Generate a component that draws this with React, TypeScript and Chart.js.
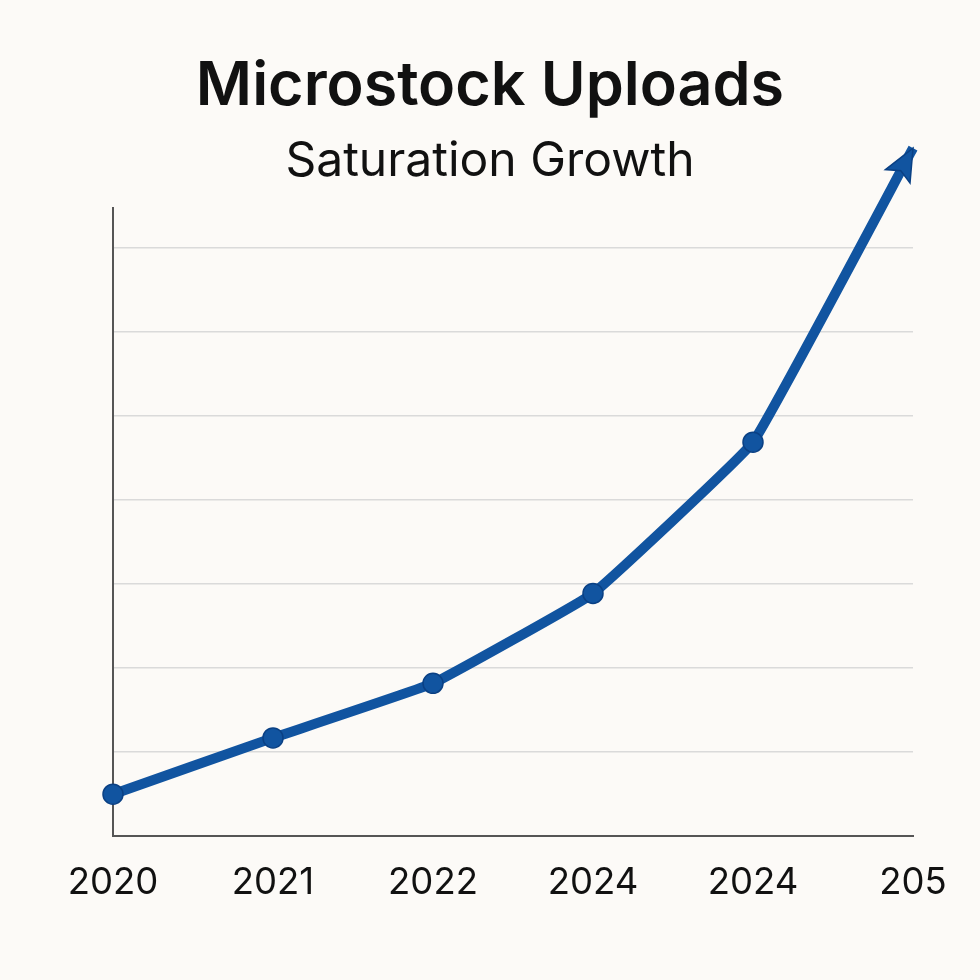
import React, { useEffect, useRef } from "react";
import { Chart, registerables } from "chart.js";

Chart.register(...registerables);

const categories = ["2020", "2021", "2022", "2024", "2024", "205"];
const uploads = [0.5, 1.17, 1.82, 2.89, 4.69, 8.19];
const pointSizes = [10, 10, 10, 10, 10, 0];

const BG = "#FCFAF7";
const LINE = "#1154A0";
const LINE_DARK = "#0A4084";

const arrowPlugin = {
  id: "arrowHead",
  afterDatasetsDraw(chart: any) {
    const meta = chart.getDatasetMeta(0);
    const pts = meta.data;
    if (!pts || pts.length < 2) return;
    const a = pts[pts.length - 2];
    const b = pts[pts.length - 1];
    const ang = Math.atan2(b.y - a.y, b.x - a.x);
    const len = 32;
    const half = 14;
    const ctx = chart.ctx;
    ctx.save();
    ctx.translate(b.x, b.y);
    ctx.rotate(ang);
    ctx.beginPath();
    ctx.moveTo(0, 0);
    ctx.lineTo(-len, -half);
    ctx.lineTo(-len * 0.8, 0);
    ctx.lineTo(-len, half);
    ctx.closePath();
    ctx.fillStyle = LINE;
    ctx.strokeStyle = LINE_DARK;
    ctx.lineWidth = 1.5;
    ctx.fill();
    ctx.stroke();
    ctx.restore();
  },
};

const bgPlugin = {
  id: "bgFill",
  beforeDraw(chart: any) {
    const ctx = chart.ctx;
    ctx.save();
    ctx.fillStyle = BG;
    ctx.fillRect(0, 0, chart.width, chart.height);
    ctx.restore();
  },
};

export default function App() {
  const ref = useRef<HTMLCanvasElement | null>(null);

  useEffect(() => {
    document.body.style.margin = "0";
    document.body.style.background = BG;
    if (!ref.current) return;
    const chart = new Chart(ref.current, {
      type: "line",
      data: {
        labels: categories,
        datasets: [
          {
            data: uploads,
            borderColor: LINE,
            borderWidth: 10,
            backgroundColor: LINE,
            pointBackgroundColor: LINE,
            pointBorderColor: LINE_DARK,
            pointBorderWidth: 1.5,
            pointRadius: pointSizes,
            tension: 0.08,
            clip: false as any,
            fill: false,
          },
        ],
      },
      options: {
        animation: false,
        responsive: true,
        maintainAspectRatio: false,
        layout: { padding: { left: 67, right: 67, top: 50, bottom: 50 } },
        plugins: {
          legend: { display: false },
          tooltip: { enabled: false },
          title: {
            display: true,
            text: "Microstock Uploads",
            color: "#111111",
            font: { family: "Inter", size: 61, weight: "600" },
            padding: { top: 0, bottom: 10 },
          },
          subtitle: {
            display: true,
            text: "Saturation Growth",
            color: "#111111",
            font: { family: "Inter", size: 48, weight: "400" },
            padding: { top: 0, bottom: 17 },
          },
        },
        scales: {
          x: {
            offset: false,
            grid: { display: false, drawTicks: false },
            border: { display: true, color: "#555555", width: 2 },
            ticks: {
              color: "#111111",
              font: { family: "Inter", size: 36.5 },
              padding: 25,
              maxRotation: 0,
              autoSkip: false,
            },
          },
          y: {
            min: 0,
            max: 7.48,
            afterFit: (scale: any) => {
              scale.width = 46;
            },
            grid: { color: "#DADADA", lineWidth: 1.5, drawTicks: false },
            border: { display: true, color: "#555555", width: 2 },
            ticks: { display: false, stepSize: 1, includeBounds: false },
          },
        },
      },
      plugins: [bgPlugin, arrowPlugin],
    });
    return () => chart.destroy();
  }, []);

  return (
    <div style={{ width: 980, height: 980, position: "relative", background: BG }}>
      <canvas ref={ref} />
    </div>
  );
}
